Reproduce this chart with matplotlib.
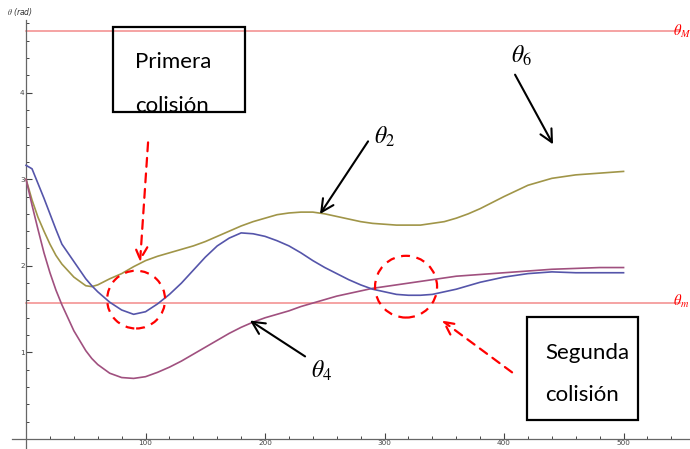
import matplotlib
matplotlib.use("Agg")
import matplotlib.pyplot as plt
from matplotlib.patches import Rectangle, Ellipse
import numpy as np

plt.rcParams["mathtext.fontset"] = "stix"

# time samples and angle responses (rad)
t = [0, 5, 10, 15, 20, 25, 30, 40, 50, 55, 60, 70, 80, 90, 100, 110, 120, 130,
     140, 150, 160, 170, 180, 190, 200, 210, 220, 230, 240, 250, 260, 270, 280,
     290, 300, 310, 320, 330, 340, 350, 360, 370, 380, 390, 400, 420, 440, 460,
     480, 500]

theta_blue = [3.16, 3.12, 2.95, 2.78, 2.60, 2.42, 2.25, 2.05, 1.85, 1.77, 1.70,
              1.58, 1.49, 1.44, 1.47, 1.56, 1.67, 1.80, 1.95, 2.10, 2.23, 2.32,
              2.38, 2.37, 2.34, 2.29, 2.23, 2.15, 2.06, 1.98, 1.91, 1.84, 1.78,
              1.73, 1.70, 1.67, 1.66, 1.66, 1.67, 1.70, 1.73, 1.77, 1.81, 1.84,
              1.87, 1.91, 1.93, 1.92, 1.92, 1.92]

theta_olive = [3.00, 2.76, 2.56, 2.40, 2.25, 2.12, 2.02, 1.87, 1.77, 1.76, 1.78,
               1.85, 1.91, 1.99, 2.06, 2.11, 2.15, 2.19, 2.23, 2.28, 2.34, 2.40,
               2.46, 2.51, 2.55, 2.59, 2.61, 2.62, 2.62, 2.60, 2.57, 2.54, 2.51,
               2.49, 2.48, 2.47, 2.47, 2.47, 2.49, 2.51, 2.55, 2.60, 2.66, 2.73,
               2.80, 2.93, 3.01, 3.05, 3.07, 3.09]

theta_purple = [3.00, 2.70, 2.42, 2.15, 1.92, 1.72, 1.55, 1.25, 1.02, 0.93, 0.86,
                0.76, 0.71, 0.70, 0.72, 0.77, 0.83, 0.90, 0.98, 1.06, 1.14, 1.22,
                1.29, 1.35, 1.40, 1.44, 1.48, 1.53, 1.57, 1.61, 1.65, 1.68, 1.71,
                1.74, 1.76, 1.78, 1.80, 1.82, 1.84, 1.86, 1.88, 1.89, 1.90, 1.91,
                1.92, 1.94, 1.96, 1.97, 1.98, 1.98]

theta_max = 3 * np.pi / 2
theta_min = np.pi / 2

x_major = [100, 200, 300, 400, 500]
y_major = [1, 2, 3, 4]

fig = plt.figure(figsize=(6.9, 4.49), dpi=100)
ax = fig.add_axes([0, 0, 1, 1])
ax.set_xlim(-21.8, 555.6)
ax.set_ylim(-0.115, 5.069)

# axes crossing at the origin
for s in ("top", "right"):
    ax.spines[s].set_visible(False)
ax.spines["left"].set_position(("data", 0))
ax.spines["bottom"].set_position(("data", 0))
ax.spines["left"].set_bounds(-0.115, 4.84)
ax.spines["bottom"].set_bounds(-12, 555.6)
for s in ("left", "bottom"):
    ax.spines[s].set_color("#666666")
    ax.spines[s].set_linewidth(0.9)

ax.set_xticks(x_major)
ax.set_xticks(np.arange(20, 560, 20), minor=True)
ax.set_yticks(y_major)
ax.set_yticks(np.arange(0.2, 4.84, 0.2), minor=True)
ax.set_xticklabels([str(v) for v in x_major])
ax.set_yticklabels([str(v) for v in y_major])
ax.tick_params(which="major", direction="in", length=4, width=0.8,
               color="#444444", labelsize=5.2, labelcolor="#444444", pad=1)
ax.tick_params(which="minor", direction="in", length=2.5, width=0.7,
               color="#444444")

ax.text(-16, 4.93, r"$\theta$ (rad)", fontsize=5.5, color="#333333",
        style="italic", va="center", ha="left")

# limit angles
ax.plot([0, 547], [theta_max, theta_max], color="#F28A8A", lw=1.1, zorder=1)
ax.plot([0, 547], [theta_min, theta_min], color="#F28A8A", lw=1.1, zorder=1)
ax.text(541.5, theta_max - 0.01, r"$\theta_M$", color="red",
        fontsize=10.5, va="center", ha="left")
ax.text(541.5, theta_min + 0.02, r"$\theta_m$", color="red",
        fontsize=10.5, va="center", ha="left")

ax.plot(t, theta_olive, color="#A09548", lw=1.2, zorder=3)
ax.plot(t, theta_purple, color="#A0507F", lw=1.2, zorder=3)
ax.plot(t, theta_blue, color="#5555AA", lw=1.2, zorder=3)

# text boxes
ax.add_patch(Rectangle((72.8, 3.78), 110.5, 0.98, fill=False, lw=1.6,
                       edgecolor="black", zorder=4))
ax.text(91.2, 4.356, "Primera", fontsize=16, family="Lato", va="center")
ax.text(91.2, 3.845, "colisión", fontsize=16, family="Lato", va="center")

ax.add_patch(Rectangle((419.2, 0.218), 92.9, 1.196, fill=False, lw=1.6,
                       edgecolor="black", zorder=4))
ax.text(434.3, 0.989, "Segunda", fontsize=16, family="Lato", va="center")
ax.text(434.3, 0.506, "colisión", fontsize=16, family="Lato", va="center")

# curve labels
ax.text(415, 4.425, r"$\theta_6$", fontsize=17, va="center", ha="center")
ax.text(300.4, 3.494, r"$\theta_2$", fontsize=17, va="center", ha="center")
ax.text(247.7, 0.793, r"$\theta_4$", fontsize=17, va="center", ha="center")

arrow_kw = dict(arrowstyle="->,head_length=0.9,head_width=0.45",
                color="black", lw=1.5, shrinkA=0, shrinkB=0)
ax.annotate("", xy=(441, 3.402), xytext=(409.2, 4.207), arrowprops=arrow_kw)
ax.annotate("", xy=(246, 2.598), xytext=(286.2, 3.437), arrowprops=arrow_kw)
ax.annotate("", xy=(187.4, 1.368), xytext=(233.5, 0.954), arrowprops=arrow_kw)

red_kw = dict(arrowstyle="->,head_length=0.9,head_width=0.45",
              color="red", lw=1.6, ls=(0, (4, 3)), shrinkA=0, shrinkB=0)
ax.annotate("", xy=(95.4, 2.046), xytext=(102.1, 3.425), arrowprops=red_kw)
ax.annotate("", xy=(348.1, 1.368), xytext=(406.7, 0.770), arrowprops=red_kw)

# collision markers
ax.add_patch(Ellipse((92.1, 1.61), 48.5, 0.667, fill=False, edgecolor="red",
                     lw=1.6, ls=(0, (4, 3)), zorder=5))
ax.add_patch(Ellipse((318, 1.759), 51.9, 0.713, fill=False, edgecolor="red",
                     lw=1.6, ls=(0, (4, 3)), zorder=5))

fig.savefig("out.png", dpi=100)
